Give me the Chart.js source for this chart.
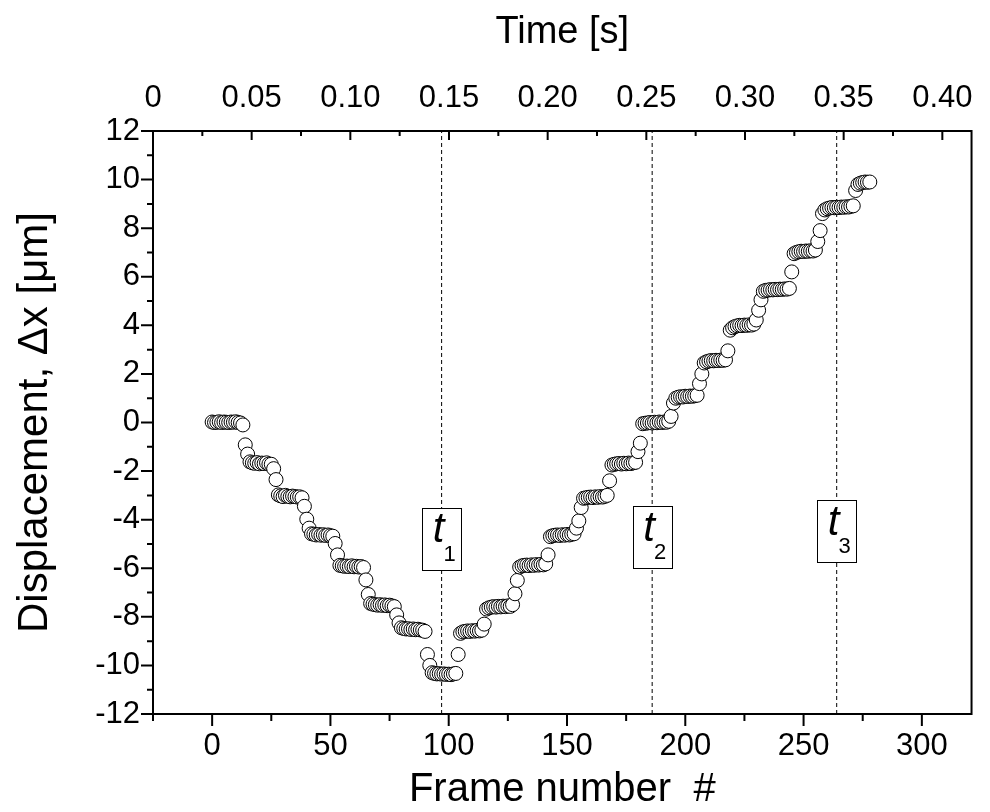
<!DOCTYPE html>
<html>
<head>
<meta charset="utf-8">
<title>Displacement vs frame number</title>
<script src="https://cdn.jsdelivr.net/npm/chart.js@4"></script>
<style>
  body { margin: 0; background: #fff; }
  #wrap { width: 990px; height: 812px; }
</style>
</head>
<body>
<div id="wrap"><canvas id="chart" width="990" height="812"></canvas></div>
<script>
// displacement per frame (µm), frame number = array index
const disp = [
  // 0 µm
  0.02, 0.0, 0.01, 0.03, 0.0, 0.02, 0.01, 0.0, 0.02, 0.01, 0.03, 0.0, -0.02,
  -0.1, -0.92, -1.3,
  // -1.7
  -1.62, -1.66, -1.68, -1.65, -1.7, -1.67, -1.69, -1.66, -1.71, -1.72,
  -1.9, -2.35,
  // -3.05
  -2.98, -3.02, -3.05, -3.0, -3.04, -3.06, -3.03, -3.05, -3.07, -3.06, -3.1,
  -3.45, -3.98, -4.35,
  // -4.6
  -4.58, -4.6, -4.63, -4.61, -4.64, -4.62, -4.65, -4.63, -4.66, -4.68,
  -4.98, -5.45,
  // -5.9
  -5.88, -5.9, -5.92, -5.91, -5.93, -5.9, -5.94, -5.92, -5.95, -5.93, -5.97,
  -6.48, -7.08,
  // -7.5
  -7.45, -7.48, -7.5, -7.52, -7.5, -7.53, -7.51, -7.54, -7.52, -7.55, -7.58,
  -7.92, -8.25,
  // -8.5
  -8.45, -8.48, -8.5, -8.49, -8.52, -8.5, -8.53, -8.51, -8.54, -8.55, -8.6,
  -9.55, -10.0,
  // -10.35 (turning point)
  -10.3, -10.33, -10.35, -10.34, -10.36, -10.35, -10.37, -10.36, -10.38, -10.35, -10.33,
  -9.55,
  // -8.6
  -8.68, -8.62, -8.6, -8.58, -8.6, -8.57, -8.59, -8.56, -8.58, -8.55,
  -8.3,
  // -7.6
  -7.68, -7.63, -7.6, -7.58, -7.6, -7.57, -7.59, -7.56, -7.58, -7.55, -7.57, -7.5,
  -7.05, -6.5,
  // -5.9
  -5.95, -5.9, -5.88, -5.87, -5.89, -5.86, -5.88, -5.85, -5.87, -5.84, -5.86, -5.82,
  -5.45,
  // -4.6
  -4.7, -4.66, -4.64, -4.63, -4.65, -4.62, -4.64, -4.61, -4.63, -4.6, -4.58,
  -4.35, -4.05, -3.5,
  // -3.1
  -3.12, -3.1, -3.08, -3.07, -3.09, -3.06, -3.08, -3.05, -3.07, -3.04, -3.0,
  -2.4,
  // -1.7
  -1.75, -1.72, -1.7, -1.69, -1.71, -1.68, -1.7, -1.67, -1.69, -1.66, -1.64,
  -1.2, -0.85,
  // 0
  -0.05, -0.03, -0.02, 0.0, -0.02, 0.01, -0.01, 0.02, 0.0, 0.02, 0.01, 0.05,
  0.25, 0.8,
  // 1.05
  1.0, 1.04, 1.06, 1.05, 1.08, 1.07, 1.09, 1.08, 1.1, 1.12,
  1.6, 2.0,
  // 2.55
  2.45, 2.5, 2.53, 2.55, 2.54, 2.56, 2.55, 2.57, 2.56, 2.58,
  2.95,
  // 4.0
  3.8, 3.9, 3.95, 3.98, 4.0, 3.99, 4.01, 4.0, 4.02, 4.01, 4.05,
  4.22, 4.62, 5.05,
  // 5.45
  5.4, 5.44, 5.45, 5.47, 5.46, 5.48, 5.47, 5.49, 5.48, 5.5, 5.49, 5.52,
  6.2,
  // 7.05
  6.95, 7.0, 7.03, 7.05, 7.04, 7.06, 7.05, 7.07, 7.06, 7.1,
  7.45, 7.9, 8.6,
  // 8.85
  8.75, 8.8, 8.83, 8.85, 8.84, 8.86, 8.85, 8.87, 8.86, 8.88, 8.87, 8.9, 8.92,
  9.55,
  // 9.9
  9.8, 9.85, 9.88, 9.9, 9.89, 9.9
];

// axis ticks
const frameTicks = [0, 50, 100, 150, 200, 250, 300];
const frameMinor = [-25, 25, 75, 125, 175, 225, 275, 325];
const timeTicks = [0, 0.05, 0.10, 0.15, 0.20, 0.25, 0.30, 0.35, 0.40];
const timeLabels = ['0', '0.05', '0.10', '0.15', '0.20', '0.25', '0.30', '0.35', '0.40'];
const timeMinor = [0.025, 0.075, 0.125, 0.175, 0.225, 0.275, 0.325, 0.375, 0.425];
const dispTicks = [-12, -10, -8, -6, -4, -2, 0, 2, 4, 6, 8, 10, 12];
const dispMinor = [-11, -9, -7, -5, -3, -1, 1, 3, 5, 7, 9, 11];

// marked instants t1..t3 (frame, label box height in µm)
const markFrames = [97, 186, 264];
const markNames = ['1', '2', '3'];
const markBoxY = [-4.78, -4.72, -4.47];

const FONT = "'Liberation Sans', Arial, sans-serif";

const points = disp.map((v, i) => ({ x: i, y: v }));

const markLines = markFrames.map(f => ({
  type: 'line',
  data: [{ x: f, y: -12 }, { x: f, y: 12 }],
  borderColor: '#000',
  borderWidth: 1,
  borderDash: [4, 3],
  pointRadius: 0,
  order: 2
}));

// frame, ticks (major + minor) and t boxes
const decorPlugin = {
  id: 'decor',
  afterDatasetsDraw(chart) {
    const { ctx, scales } = chart;
    const y = scales.y, x = scales.x;

    // t boxes on top of the dashed lines
    ctx.save();
    markFrames.forEach((f, i) => {
      const cx = x.getPixelForValue(f);
      const cy = y.getPixelForValue(markBoxY[i]);
      const w = 39, h = 62;
      const bx = Math.round(cx - w / 2) + 0.5, by = Math.round(cy - h / 2) + 0.5;
      ctx.fillStyle = '#fff';
      ctx.fillRect(bx, by, w, h);
      ctx.strokeStyle = '#000';
      ctx.lineWidth = 1;
      ctx.strokeRect(bx, by, w, h);
      ctx.fillStyle = '#000';
      ctx.textAlign = 'center';
      ctx.textBaseline = 'middle';
      ctx.font = 'italic 42px ' + FONT;
      ctx.fillText('t', cx - 3, cy - 8);
      ctx.font = '22px ' + FONT;
      ctx.fillText(markNames[i], cx + 8, cy + 16);
    });
    ctx.restore();
  },
  afterDraw(chart) {
    const { ctx, chartArea: a, scales } = chart;
    const x = scales.x, x2 = scales.x2, y = scales.y;
    ctx.save();
    ctx.strokeStyle = '#000';
    ctx.lineWidth = 2;
    ctx.strokeRect(a.left, a.top, a.right - a.left, a.bottom - a.top);

    ctx.beginPath();
    const inX = (s, v) => v >= s.min && v <= s.max;
    // bottom: outward
    frameTicks.forEach(v => { const p = x.getPixelForValue(v); ctx.moveTo(p, a.bottom); ctx.lineTo(p, a.bottom + 12); });
    frameMinor.filter(v => inX(x, v)).forEach(v => { const p = x.getPixelForValue(v); ctx.moveTo(p, a.bottom); ctx.lineTo(p, a.bottom + 7); });
    // top: inward
    timeTicks.forEach(v => { const p = x2.getPixelForValue(v); ctx.moveTo(p, a.top); ctx.lineTo(p, a.top + 9); });
    timeMinor.filter(v => inX(x2, v)).forEach(v => { const p = x2.getPixelForValue(v); ctx.moveTo(p, a.top); ctx.lineTo(p, a.top + 5); });
    // left: outward
    dispTicks.forEach(v => { const p = y.getPixelForValue(v); ctx.moveTo(a.left - 12, p); ctx.lineTo(a.left, p); });
    dispMinor.forEach(v => { const p = y.getPixelForValue(v); ctx.moveTo(a.left - 6, p); ctx.lineTo(a.left, p); });
    ctx.stroke();
    ctx.restore();
  }
};

const tickFont = { family: FONT, size: 31, lineHeight: 1 };

new Chart(document.getElementById('chart'), {
  type: 'scatter',
  data: {
    datasets: [
      {
        data: points,
        pointRadius: 7,
        pointBorderWidth: 1,
        pointBackgroundColor: '#fff',
        pointBorderColor: '#000',
        showLine: false,
        order: 1
      },
      ...markLines
    ]
  },
  options: {
    responsive: false,
    animation: false,
    layout: { padding: { right: 14 } },
    plugins: { legend: { display: false }, tooltip: { enabled: false } },
    scales: {
      x: {
        type: 'linear',
        position: 'bottom',
        min: -25,
        max: 321,
        afterBuildTicks: s => { s.ticks = frameTicks.map(v => ({ value: v })); },
        afterFit: s => { s.height = 98; },
        grid: { display: false, drawTicks: false },
        border: { display: false },
        ticks: { font: tickFont, color: '#000', padding: 17, maxRotation: 0, autoSkip: false },
        title: {
          display: true, text: 'Frame number  #', color: '#000',
          font: { family: FONT, size: 40, lineHeight: 1 },
          padding: { top: 0, bottom: 2 }
        }
      },
      x2: {
        type: 'linear',
        position: 'top',
        min: 0,
        max: 0.4148,
        afterBuildTicks: s => { s.ticks = timeTicks.map(v => ({ value: v })); },
        afterFit: s => { s.height = 131; },
        grid: { display: false, drawTicks: false },
        border: { display: false },
        ticks: {
          font: tickFont, color: '#000', padding: 17, maxRotation: 0, autoSkip: false,
          callback: (v, i) => timeLabels[i]
        },
        title: {
          display: true, text: 'Time [s]', color: '#000',
          font: { family: FONT, size: 38, lineHeight: 1 },
          padding: { top: 14, bottom: 0 }
        }
      },
      y: {
        type: 'linear',
        min: -12,
        max: 12,
        afterBuildTicks: s => { s.ticks = dispTicks.map(v => ({ value: v })); },
        afterFit: s => { s.width = 153; },
        grid: { display: false, drawTicks: false },
        border: { display: false },
        ticks: { font: tickFont, color: '#000', padding: 13, autoSkip: false },
        title: {
          display: true, text: 'Displacement, Δx [μm]', color: '#000',
          font: { family: FONT, size: 42, lineHeight: 1 },
          padding: { top: 14, bottom: 0 }
        }
      }
    }
  },
  plugins: [decorPlugin]
});
</script>
</body>
</html>
